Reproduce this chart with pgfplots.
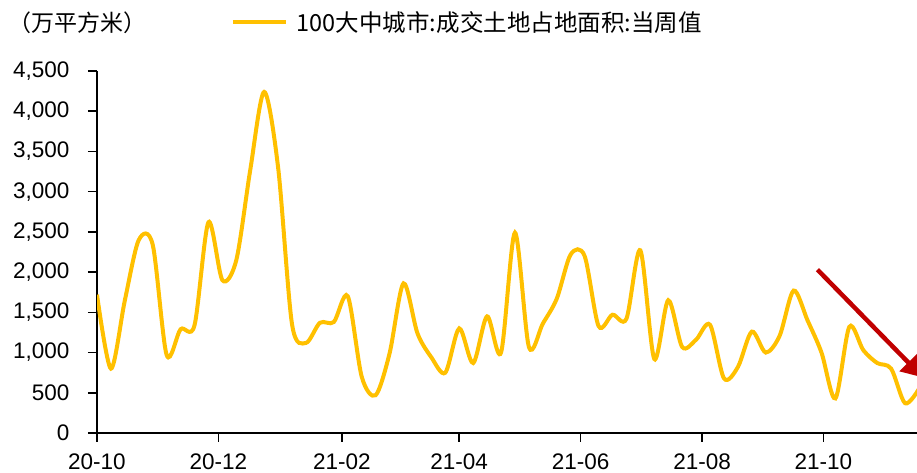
\documentclass[border=0pt]{standalone}
\usepackage{fontspec}
\setmainfont{Liberation Sans}
\newfontfamily\cjk{Noto Sans CJK SC}
\usepackage{pgfplots}
\pgfplotsset{compat=1.18}
\usetikzlibrary{arrows.meta}
\definecolor{lineyellow}{HTML}{FFC000}
\definecolor{arrowred}{HTML}{C00000}
\begin{document}
\begin{tikzpicture}[x=1pt,y=1pt]
\path[use as bounding box] (0,0) rectangle (917,473);
\node[anchor=west,inner sep=0pt,font=\cjk\fontsize{23}{26}\selectfont] at (8,450) {（万平方米）};
\begin{axis}[
    at={(97pt,40pt)}, anchor=south west,
    scale only axis, width=820pt, height=362pt,
    xmin=0, xmax=412, ymin=0, ymax=4500,
    axis x line*=bottom, axis y line*=left,
    axis line style={-, line width=1.6pt},
    tick style={line width=1.6pt, black},
    tick align=outside, major tick length=9pt,
    xtick={0,61,123,182,243,304,365},
    xticklabels={20-10,20-12,21-02,21-04,21-06,21-08,21-10},
    ytick={0,500,...,4500},
    tick label style={font=\fontsize{22.5}{26}\selectfont},
    /pgf/number format/assume math mode=true,
    /pgf/number format/1000 sep={,},
    yticklabel style={xshift=-15pt},
    xticklabel style={yshift=-8pt},
    legend style={at={(axis description cs:0.163,1.135)}, anchor=west, draw=none, fill=none,
        font=\cjk\fontsize{23.5}{26}\selectfont, inner sep=0pt},
    legend image code/.code={\draw[#1, line width=4pt] (0pt,0pt) -- (53pt,0pt);},
]
\addplot[lineyellow, line width=4pt, smooth, tension=0.5] coordinates {
(0,1720)(7,800)(14,1650)(21,2400)(28,2340)(35,970)(42,1290)(49,1340)(56,2620)(63,1900)
(70,2150)(77,3270)(84,4240)(91,3300)(98,1350)(105,1120)(112,1370)(119,1380)(126,1700)(133,700)
(140,470)(147,990)(154,1860)(161,1240)(168,940)(175,750)(182,1300)(189,870)(196,1450)(203,1000)
(210,2490)(217,1070)(224,1360)(231,1670)(238,2220)(245,2200)(252,1330)(259,1470)(266,1420)(273,2270)
(280,920)(287,1650)(294,1070)(301,1160)(308,1345)(315,680)(322,820)(329,1260)(336,1000)(343,1210)
(350,1770)(357,1400)(364,1000)(371,430)(378,1320)(385,1030)(392,870)(399,800)(406,370)(413,550)
};
\addlegendentry{\hspace{7pt}100大中城市:成交土地占地面积:当周值}
\draw[arrowred, line width=4.5pt, -{Triangle[length=21pt,width=24pt]}] (axis cs:362,2030) -- (axis cs:415,690);
\end{axis}
\end{tikzpicture}
\end{document}
